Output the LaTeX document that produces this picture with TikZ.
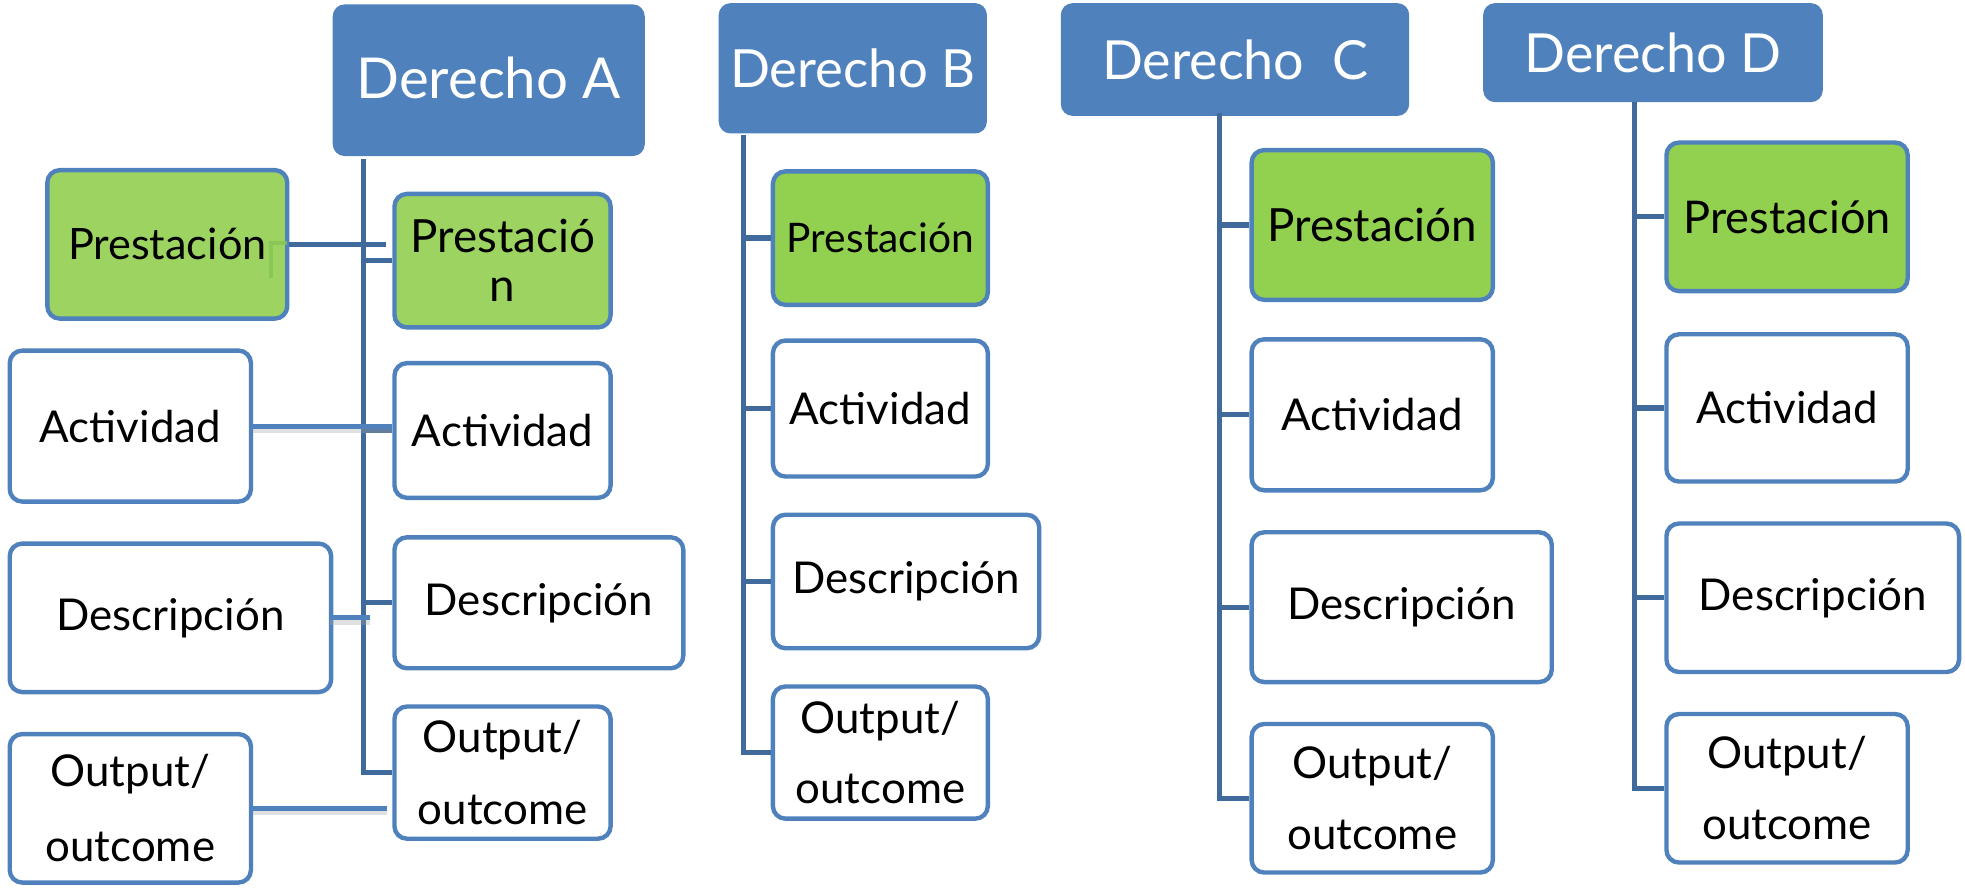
\documentclass[tikz,border=0pt]{standalone}
\usepackage{fontspec}
\setmainfont{Lato}
\definecolor{headblue}{HTML}{4F81BD}
\definecolor{bordblue}{HTML}{4F81BD}
\definecolor{treeblue}{HTML}{3F6A9B}
\definecolor{gfill}{HTML}{92D050}
\definecolor{gfillA}{HTML}{9CD361}
\definecolor{gmark}{HTML}{86C455}
\tikzset{
  header/.style={draw=headblue, fill=headblue, line width=1pt, rounded corners=9pt,
    inner sep=0pt, text=white, font=\fontsize{44}{50}\selectfont},
  boxw/.style={draw=bordblue, fill=white, line width=3.5pt, rounded corners=10pt,
    inner sep=0pt, align=center, font=\fontsize{35}{42}\selectfont},
  boxg/.style={boxw, fill=gfill},
  boxga/.style={boxw, fill=gfillA},
  outbox/.style={boxw, font=\fontsize{35}{#1}\selectfont},
  tree/.style={draw=treeblue, line width=4.2pt},
  side/.style={draw=bordblue, line width=4pt,
    preaction={draw=black!35, opacity=0.35, line width=4pt, transform canvas={yshift=-3.5pt}}},
}
\newcommand{\bx}[7]{% style, name, cx, cy, w, h, text
  \node[#1, minimum width=#5pt-3.5pt, minimum height=#6pt-3.5pt] (#2) at (#3,#4) {#7};}
\begin{document}
\begin{tikzpicture}[x=1pt,y=-1pt]
\useasboundingbox (0,0) rectangle (1568,710);
% headers
\node[header, minimum width=248pt, minimum height=120pt, font=\fontsize{45}{50}\selectfont] (hA) at (390,64) {\raisebox{4pt}{Derecho A}};
\node[header, minimum width=213pt, minimum height=103pt, font=\fontsize{42}{48}\selectfont] (hB) at (680.5,54.5) {Derecho B};
\node[header, minimum width=277pt, minimum height=89pt, font=\fontsize{43}{48}\selectfont] (hC) at (985.5,47.5) {Derecho\ \ C};
\node[header, minimum width=270pt, minimum height=78pt, font=\fontsize{43}{48}\selectfont] (hD) at (1319,42) {Derecho D};
% column A right
\bx{boxga, font=\fontsize{36.5}{39}\selectfont}{pA}{401}{208}{176}{110}{Prestació\\n}
\bx{boxw}{aA}{401}{343.5}{176}{111}{Actividad}
\bx{boxw}{dA}{430}{481}{234}{108}{Descripción}
\bx{outbox=58}{oA}{401}{616.5}{176}{109}{Output/\\outcome}
% left column
\bx{boxga}{pL}{133.5}{195}{195}{122}{\fontsize{34.5}{40}\selectfont Prestación}
\bx{boxw}{aL}{104}{340}{196}{124}{Actividad}
\bx{boxw}{dL}{136}{493}{260}{122}{Descripción}
\bx{outbox=60}{oL}{104}{645}{196}{122}{Output/\\outcome}
% column B
\bx{boxg}{pB}{702.5}{190}{175}{110}{\fontsize{32.5}{40}\selectfont Prestación}
\bx{boxw}{aB}{702.5}{326}{175}{112}{Actividad}
\bx{boxw}{dB}{723}{464}{216}{110}{Descripción}
\bx{outbox=56}{oB}{702.5}{600.5}{175}{109}{Output/\\outcome}
% column C
\bx{boxg}{pC}{1095}{179.5}{196}{123}{\fontsize{36.5}{40}\selectfont Prestación}
\bx{boxw}{aC}{1095}{331}{196}{124}{Actividad}
\bx{boxw}{dC}{1118.5}{484.5}{243}{123}{Descripción}
\bx{outbox=57}{oC}{1095}{637}{196}{122}{Output/\\outcome}
% column D
\bx{boxg}{pD}{1426}{173}{196}{122}{\fontsize{36}{40}\selectfont Prestación}
\bx{boxw}{aD}{1426}{325.5}{196}{121}{Actividad}
\bx{boxw}{dD}{1446.5}{477}{237}{122}{Descripción}
\bx{outbox=57}{oD}{1426}{629}{196}{122}{Output/\\outcome}
% tree trunks
\coordinate (tA) at (290,127);
\coordinate (tB) at (593,108);
\coordinate (tC) at (973,90);
\coordinate (tD) at (1304.5,81);
\foreach \c in {A,B,C,D}{
  \draw[tree] (t\c) -- (t\c |- o\c.west) -- (o\c.west);
  \draw[tree] (t\c |- p\c.west) -- (p\c.west);
  \draw[tree] (t\c |- a\c.west) -- (a\c.west);
  \draw[tree] (t\c |- d\c.west) -- (d\c.west);
}
% left side connectors
\draw[tree] (pL.east) -- ([xshift=-5pt]pL.east -| pA.west);
\draw[side] (aL.east) -- (aL.east -| aA.west);
\draw[side] ([xshift=-3pt]dL.east) -- ([xshift=5pt]dL.east -| tA);
\draw[side] (oL.east) -- ([xshift=-4pt]oL.east -| oA.west);
% small green mark inside left Prestación
\draw[gmark, line width=3pt, opacity=0.8] (229,194) -- (216,194) -- (216,222);
\end{tikzpicture}
\end{document}
